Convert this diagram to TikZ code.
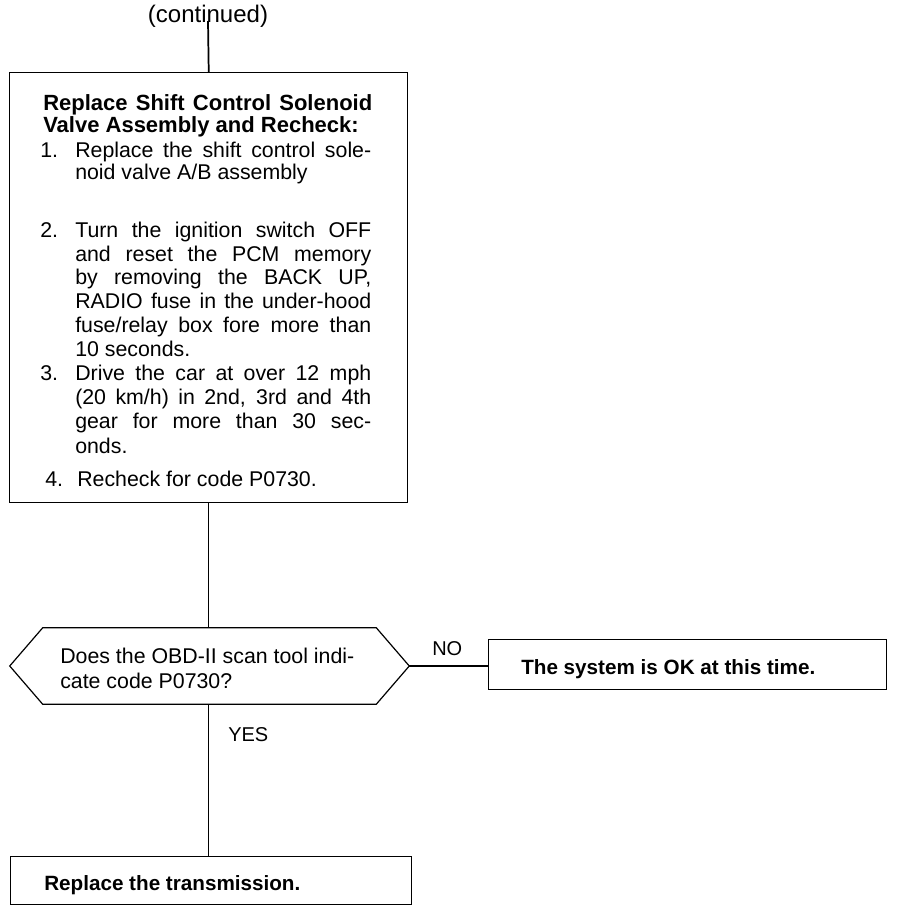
\documentclass[tikz,border=0pt]{standalone}
\usepackage{fontspec}
\setmainfont{Liberation Sans}
\usetikzlibrary{calc}
\newcommand\jline[1]{\makebox[222pt][s]{#1}}
\newcommand\headjline[1]{\makebox[246.75pt][s]{#1}}
\begin{document}
\begin{tikzpicture}[x=0.75pt,y=-0.75pt,
  boxst/.style={draw, line width=1.1pt, inner sep=0pt, anchor=north west},
  conn/.style={line width=0.8pt},
  bodytxt/.style={anchor=base west, inner sep=0pt, font=\fontsize{16}{19}\selectfont},
  headtxt/.style={anchor=base west, inner sep=0pt, font=\bfseries\fontsize{16.5}{19}\selectfont},
  boldtxt/.style={anchor=base west, inner sep=0pt, font=\bfseries\fontsize{15.5}{19}\selectfont},
  lbl/.style={anchor=base west, inner sep=0pt, font=\fontsize{15}{18}\selectfont}]
\useasboundingbox[fill=white] (0,0) rectangle (896,912);

% top
\node[inner sep=0pt, font=\fontsize{18}{20}\selectfont] (contd) at (208,16) {(continued)};
\coordinate (ctop) at (208,21);

% main box
\node[boxst, minimum width=398*0.75pt, minimum height=430*0.75pt] (box1) at (9,72) {};
\node[headtxt] (h1) at (43,111) {\headjline{Replace Shift Control Solenoid}};
\node[headtxt] (h2) at (43,133) {Valve Assembly and Recheck:};
\node[bodytxt] (n1) at (40,158) {1.};
\node[bodytxt] (t1a) at (75,158) {\jline{Replace the shift control sole-}};
\node[bodytxt] (t1b) at (75,180) {noid valve A/B assembly};
\node[bodytxt] (n2) at (40,238) {2.};
\node[bodytxt] (t2a) at (75,238) {\jline{Turn the ignition switch OFF}};
\node[bodytxt] (t2b) at (75,262) {\jline{and reset the PCM memory}};
\node[bodytxt] (t2c) at (75,285) {\jline{by removing the BACK UP,}};
\node[bodytxt] (t2d) at (75,309) {\jline{RADIO fuse in the under-hood}};
\node[bodytxt] (t2e) at (75,333) {\jline{fuse/relay box fore more than}};
\node[bodytxt] (t2f) at (75,356) {10 seconds.};
\node[bodytxt] (n3) at (40,380) {3.};
\node[bodytxt] (t3a) at (75,380) {\jline{Drive the car at over 12 mph}};
\node[bodytxt] (t3b) at (75,404) {\jline{(20 km/h) in 2nd, 3rd and 4th}};
\node[bodytxt] (t3c) at (75,428) {\jline{gear for more than 30 sec-}};
\node[bodytxt] (t3d) at (75,453) {onds.};
\node[bodytxt] (n4) at (45,486) {4.};
\node[bodytxt] (t4) at (77,486) {Recheck for code P0730.};

% decision hexagon
\node[minimum width=399*0.75pt, minimum height=76*0.75pt, inner sep=0pt] (q) at (209.5,666) {};
\draw[line width=0.9pt] (q.west) -- ($(q.north west)+(33,0)$) -- ($(q.north east)+(-33,0)$) -- (q.east)
  -- ($(q.south east)+(-33,0)$) -- ($(q.south west)+(33,0)$) -- cycle;
\node[bodytxt] (qa) at (60,663) {Does the OBD-II scan tool indi-};
\node[bodytxt] (qb) at (60,688) {cate code P0730?};

% right box
\node[boxst, minimum width=398*0.75pt, minimum height=50*0.75pt] (ok) at (488,639) {};
\node[boldtxt] (okt) at (521,674) {The system is OK at this time.};

% bottom box
\node[boxst, minimum width=401*0.75pt, minimum height=48*0.75pt] (box3) at (10,856) {};
\node[boldtxt] (b3t) at (44,890) {Replace the transmission.};

% labels
\node[lbl] (no) at (432,655) {NO};
\node[lbl] (yes) at (228,741) {YES};

% connectors
\draw[line width=1.3pt] (ctop) -- (box1.north);
\draw[conn] (box1.south) -- (box1.south |- q.north);
\draw[conn] (q.east) -- (q.east -| ok.west);
\draw[conn] (box1.south |- q.south) -- (box1.south |- box3.north);
\end{tikzpicture}
\end{document}
